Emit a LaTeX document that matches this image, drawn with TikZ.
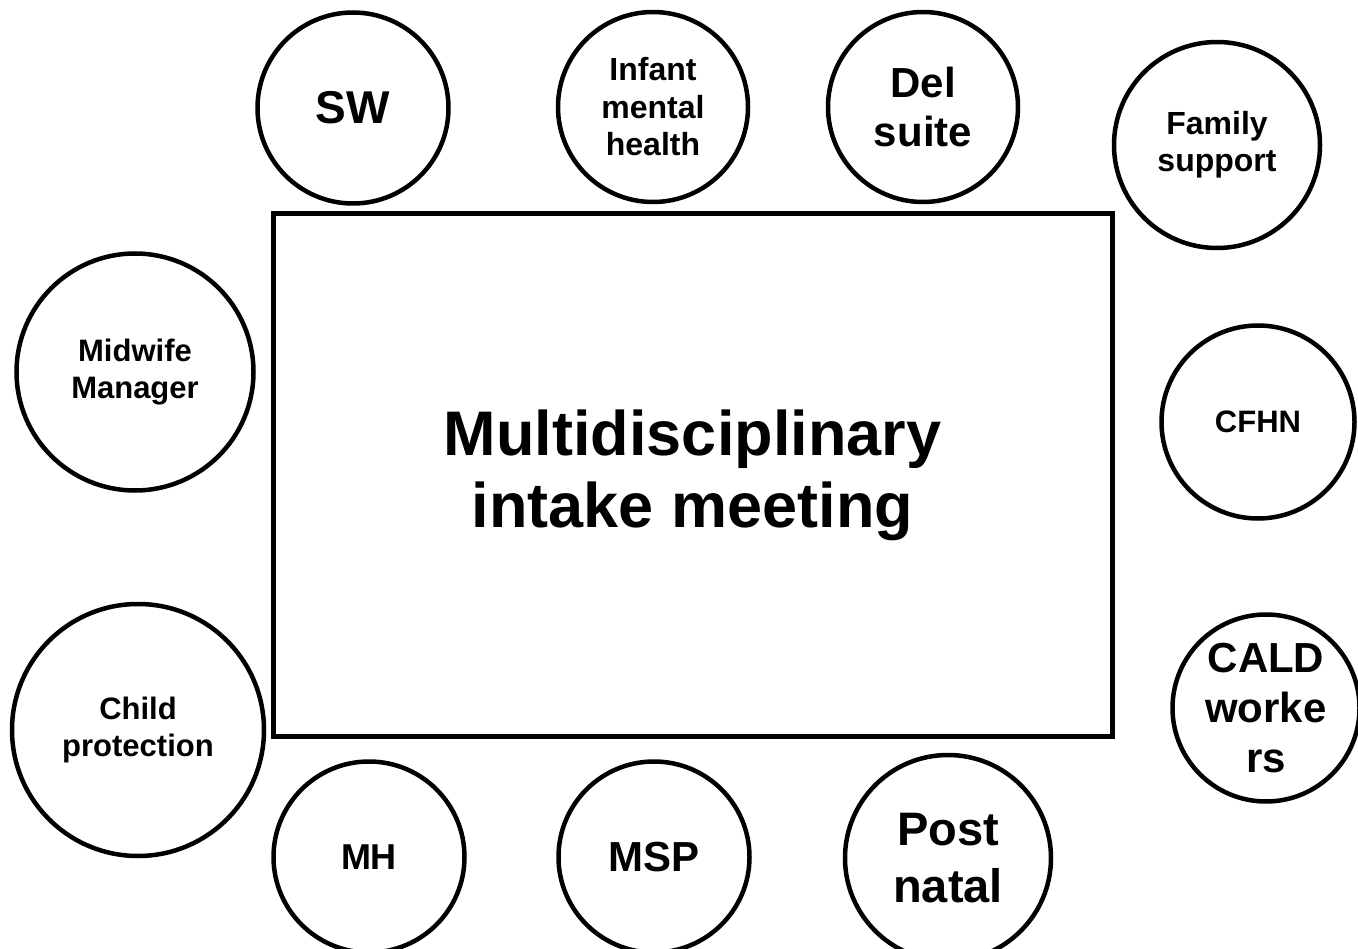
\documentclass[tikz,border=0pt]{standalone}
\usepackage{fontspec}
\setmainfont{Liberation Sans}
\newcommand\myfs[2]{\fontsize{#1}{#2}\selectfont}
\tikzset{
  party/.style={circle, draw, line width=4.5pt, inner sep=0pt, align=center},
  meeting/.style={rectangle, draw, line width=5pt, inner sep=0pt, align=center}
}
\begin{document}
\begin{tikzpicture}[x=1pt,y=-1pt]
\useasboundingbox (0,0) rectangle (1358,949);
\node[meeting, minimum width=839pt, minimum height=522pt, font=\bfseries\myfs{63}{72}] (main) at (692.5,475)
  {Multidisciplinary\\intake meeting};
\node[party, minimum size=191pt, font=\bfseries\myfs{46}{52}] (sw) at (353,108) {SW};
\node[party, minimum size=190pt, font=\bfseries\myfs{32}{37.5}] (imh) at (653,107) {Infant\\mental\\health};
\node[party, minimum size=190pt, font=\bfseries\myfs{42}{49}] (del) at (923,107) {Del\\suite};
\node[party, minimum size=206pt, font=\bfseries\myfs{32}{37}] (fam) at (1217,145) {Family\\support};
\node[party, minimum size=237pt, font=\bfseries\myfs{31}{37}] (mwm) at (135,372) {Midwife\\Manager};
\node[party, minimum size=193pt, font=\bfseries\myfs{31}{37}] (cfhn) at (1258,422) {CFHN};
\node[party, minimum size=252pt, font=\bfseries\myfs{31}{37}] (cp) at (138,730) {Child\\protection};
\node[party, minimum size=187pt, font=\bfseries\myfs{42}{50}] (cald) at (1266,708) {CALD\\worke\\rs};
\node[party, minimum size=191pt, font=\bfseries\myfs{36}{42}] (mh) at (369,857) {MH};
\node[party, minimum size=191pt, font=\bfseries\myfs{42}{49}] (msp) at (654,857) {MSP};
\node[party, minimum size=206pt, font=\bfseries\myfs{47}{57}] (pn) at (948,858) {Post\\natal};
\end{tikzpicture}
\end{document}
